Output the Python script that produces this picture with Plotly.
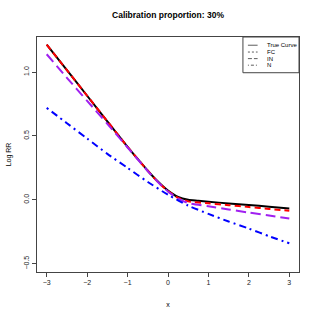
import plotly.graph_objects as go

# Data
x_true = [-3, -2.5, -2, -1.5, -1, -0.75, -0.5, -0.25, 0, 0.25, 0.5, 0.75, 1, 1.5, 2, 2.5, 3]
y_true = [1.215, 1.015, 0.815, 0.615, 0.415, 0.32, 0.228, 0.143, 0.072, 0.022, 0.0, -0.007, -0.015, -0.028, -0.04, -0.054, -0.068]

x_fc = [-3, -2.5, -2, -1.5, -1, -0.75, -0.5, -0.25, 0, 0.25, 0.5, 1, 1.5, 2, 2.5, 3]
y_fc = [1.215, 1.015, 0.815, 0.615, 0.415, 0.32, 0.228, 0.14, 0.068, 0.016, -0.012, -0.027, -0.042, -0.056, -0.071, -0.086]

x_in = [-3, -2.5, -2, -1.5, -1, -0.75, -0.5, -0.25, 0, 0.25, 0.5, 1, 1.5, 2, 2.5, 3]
y_in = [1.14, 0.955, 0.775, 0.595, 0.41, 0.318, 0.225, 0.14, 0.065, 0.01, -0.025, -0.05, -0.075, -0.1, -0.123, -0.147]

x_n = [-3, -2.5, -2, -1.5, -1, -0.5, 0, 0.5, 1, 1.5, 2, 2.5, 3]
y_n = [0.72, 0.6, 0.48, 0.36, 0.25, 0.14, 0.04, -0.045, -0.11, -0.17, -0.225, -0.285, -0.34]

legend_labels = ["True Curve", "FC", "IN", "N"]
x_ticks = [-3, -2, -1, 0, 1, 2, 3]
y_ticks = [-0.5, 0.0, 0.5, 1.0]
y_tick_text = ["\u22120.5", "0.0", "0.5", "1.0"]
x_tick_text = ["\u22123", "\u22122", "\u22121", "0", "1", "2", "3"]

FONT = "Liberation Sans, Arial, sans-serif"

fig = go.Figure()
fig.add_trace(go.Scatter(x=x_true, y=y_true, mode="lines", line=dict(color="black", width=2, shape="spline", smoothing=0.6)))
fig.add_trace(go.Scatter(x=x_fc, y=y_fc, mode="lines", line=dict(color="red", width=2, dash="6px,4px", shape="spline", smoothing=0.6)))
fig.add_trace(go.Scatter(x=x_in, y=y_in, mode="lines", line=dict(color="#A020F0", width=2, dash="10px,5px", shape="spline", smoothing=0.6)))
fig.add_trace(go.Scatter(x=x_n, y=y_n, mode="lines", line=dict(color="blue", width=2, dash="2px,4px,7px,4px", shape="spline", smoothing=0.6)))

# Legend drawn manually (R style)
shapes = [dict(type="rect", xref="paper", yref="paper", x0=0.786, x1=1.0, y0=0.848, y1=1.0,
               line=dict(color="#444", width=1), fillcolor="white", layer="above")]
legend_y = [0.965, 0.936, 0.908, 0.880]
dashes = ["solid", "2px,2px", "4px,2px", "1px,2px,3px,2px"]
annotations = []
for lab, yy, d in zip(legend_labels, legend_y, dashes):
    shapes.append(dict(type="line", xref="paper", yref="paper", x0=0.805, x1=0.842, y0=yy, y1=yy,
                       line=dict(color="#333", width=0.8, dash=d), layer="above"))
    annotations.append(dict(xref="paper", yref="paper", x=0.870, y=yy, text=lab, showarrow=False,
                            xanchor="left", yanchor="middle", font=dict(size=6, color="black", family=FONT)))

fig.update_layout(
    width=319, height=319,
    margin=dict(l=37, r=20, t=37, b=47),
    paper_bgcolor="white", plot_bgcolor="white",
    showlegend=False,
    font=dict(family=FONT, color="black"),
    title=dict(text="<b>Calibration proportion: 30%</b>", x=0.5, xref="paper", y=0.953, yanchor="middle",
               font=dict(size=8.5, family=FONT, color="black")),
    shapes=shapes, annotations=annotations,
)
fig.update_xaxes(range=[-3.24, 3.24], tickvals=x_ticks, ticktext=x_tick_text, ticks="outside", ticklen=4,
                 tickcolor="#444", showline=True, linecolor="#444", linewidth=1, mirror=True,
                 showgrid=False, zeroline=False, tickfont=dict(size=7, color="#222"), automargin=False,
                 title=dict(text="x", font=dict(size=7), standoff=16))
fig.update_yaxes(range=[-0.565, 1.275], tickvals=y_ticks, ticktext=y_tick_text, ticks="outside", ticklen=4,
                 tickcolor="#444", showline=True, linecolor="#444", linewidth=1, mirror=True, tickangle=-90,
                 showgrid=False, zeroline=False, tickfont=dict(size=7, color="#222"), automargin=False,
                 title=dict(text="Log RR", font=dict(size=7), standoff=10))

fig.write_html("out.html", config={"displayModeBar": False},
               post_script="document.body.style.margin='0';")
